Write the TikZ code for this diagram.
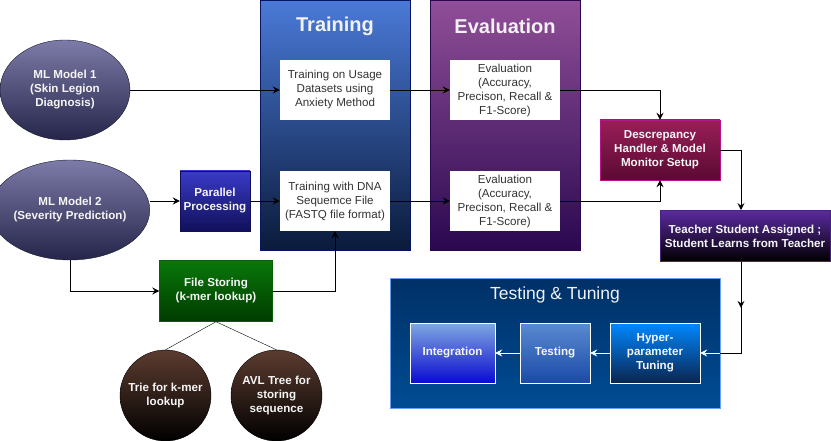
\documentclass[tikz,border=0pt]{standalone}
\usepackage{fontspec}
\setmainfont{Liberation Sans}
\usetikzlibrary{shapes.geometric,arrows.meta,positioning}

\definecolor{ellTop}{HTML}{7D7BA8}
\definecolor{ellBot}{HTML}{25254A}
\definecolor{trTop}{HTML}{4A7AD8}
\definecolor{trBot}{HTML}{0A1A3A}
\definecolor{evTop}{HTML}{904F98}
\definecolor{evBot}{HTML}{2A0850}
\definecolor{paraTop}{HTML}{3A3AC8}
\definecolor{paraBot}{HTML}{10105A}
\definecolor{descTop}{HTML}{9A1E58}
\definecolor{descBot}{HTML}{5A0A32}
\definecolor{teachTop}{HTML}{5A2AA0}
\definecolor{fileTop}{HTML}{0A780A}
\definecolor{fileBot}{HTML}{003A00}
\definecolor{treeTop}{HTML}{5C3C30}
\definecolor{ttTop}{HTML}{003066}
\definecolor{ttBot}{HTML}{004C94}
\definecolor{ttLine}{HTML}{6AA0F0}
\definecolor{intTop}{HTML}{80A8E0}
\definecolor{intBot}{HTML}{0A0AD0}
\definecolor{tstTop}{HTML}{5A8AD0}
\definecolor{tstBot}{HTML}{1A4AA8}
\definecolor{hypTop}{HTML}{0088FF}
\definecolor{hypBot}{HTML}{0A2550}

\tikzset{
  txt/.style = {inner sep=0, align=center, font=\fontsize{11.6}{14}\selectfont},
  boldtxt/.style = {txt, font=\fontsize{11.6}{14}\selectfont\bfseries, text=white!92!gray},
  whitebox/.style = {txt, fill=white, text=black!80, minimum width=110, minimum height=60},
  model/.style = {boldtxt, ellipse, draw=ellBot!60!black, top color=ellTop, bottom color=ellBot, minimum width=130, minimum height=100},
  tree/.style = {boldtxt, circle, draw=black, top color=treeTop, bottom color=black, minimum size=91},
  stage/.style = {draw, minimum width=150, minimum height=250},
  title/.style = {font=\fontsize{20}{22}\selectfont\bfseries, text=white!90!gray},
  inner/.style = {boldtxt, draw=white, minimum height=60},
  arr/.style = {-{Stealth[length=7pt,width=7pt,inset=2.5pt]}, line width=0.9pt},
  warr/.style = {arr, white},
}

\begin{document}
\begin{tikzpicture}[x=1pt,y=-1pt]
	\useasboundingbox (0,0) rectangle (831,441);

	% stage containers
	\node[stage, draw=trBot!80!blue, top color=trTop, bottom color=trBot] (trbox) at (335,125) {};
	\node[stage, draw=evBot, top color=evTop, bottom color=evBot] (evbox) at (505,125) {};
	\node[title] (trtitle) at (335,26) {Training};
	\node[title] (evtitle) at (505,26) {Evaluation};

	\node[draw=ttLine, line width=0.8pt, top color=ttTop, bottom color=ttBot, minimum width=330, minimum height=130] (tt) at (555,343) {};
	\node[font=\fontsize{17.5}{20}\selectfont, text=white!90!gray] (tttitle) at (555,295) {Testing \& Tuning};

	% models
	\node[model] (ml1) at (65,90) {ML Model 1\\(Skin Legion\\Diagnosis)};
	\node[model, minimum width=140] (ml2) at (70,210) {ML Model 2\\(Severity Prediction)};

	\node[boldtxt, draw=paraBot, top color=paraTop, bottom color=paraBot, minimum width=70, minimum height=60] (para) at (215,201) {Parallel\\Processing};

	\node[whitebox] (tr1) at (335,90) {Training on Usage\\Datasets using\\Anxiety Method};
	\node[whitebox] (tr2) at (335,201) {Training with DNA\\Sequemce File\\(FASTQ file format)};
	\node[whitebox] (ev1) at (505,90) {Evaluation\\(Accuracy,\\Precison, Recall \&\\F1-Score)};
	\node[whitebox] (ev2) at (505,201) {Evaluation\\(Accuracy,\\Precison, Recall \&\\F1-Score)};

	\node[boldtxt, draw=descTop!70!magenta, top color=descTop, bottom color=descBot, minimum width=120, minimum height=60] (desc) at (660,150) {Descrepancy\\Handler \& Model\\Monitor Setup};
	\node[boldtxt, draw=teachTop!80!black, line width=0.8pt, top color=teachTop, bottom color=black, minimum width=170, minimum height=51] (teacher) at (745,236) {Teacher Student Assigned ;\\Student Learns from Teacher};

	\node[boldtxt, draw=fileTop!80!black, top color=fileTop, bottom color=fileBot, minimum width=113, minimum height=61] (file) at (216,291) {File Storing\\(k-mer lookup)};
	\node[tree] (trie) at (165.5,395.5) {Trie for k-mer\\lookup};
	\node[tree] (avl) at (276.5,395.5) {AVL Tree for\\storing\\sequence};

	\node[inner, top color=intTop, bottom color=intBot, minimum width=85] (integ) at (452.5,353) {Integration};
	\node[inner, top color=tstTop, bottom color=tstBot, minimum width=70] (testing) at (555,353) {Testing};
	\node[inner, top color=hypTop, bottom color=hypBot, minimum width=90] (hyp) at (655,353) {Hyper-\\parameter\\Tuning};

	\coordinate (col) at (741,0);

	% connectors
	\draw[arr] (ml1) -- (tr1);
	\draw[arr] (ml2.east |- para) -- (para);
	\draw[arr] (para) -- (tr2);
	\draw[arr] (tr1) -- (ev1);
	\draw[arr] (tr2) -- (ev2);
	\draw[arr] (ev1.east) -| (desc.north);
	\draw[arr] (ev2.east) -| (desc.south);
	\draw[arr] (desc.east) -| (col |- teacher.north);
	\draw[arr] (ml2.south) |- (file.west);
	\draw[arr] (file.east) -| (tr2.south);
	\draw (file.south) -- (trie.north);
	\draw (file.south) -- (avl.north);

	\draw[line width=0.9pt] (col |- teacher.south) |- (tt.east |- hyp);
	\draw[arr] (col |- teacher.south) -- ++(0,46);
	\draw[warr] (tt.east |- hyp) -- (hyp);
	\draw[warr] (hyp) -- (testing);
	\draw[warr] (testing) -- (integ);
\end{tikzpicture}
\end{document}
